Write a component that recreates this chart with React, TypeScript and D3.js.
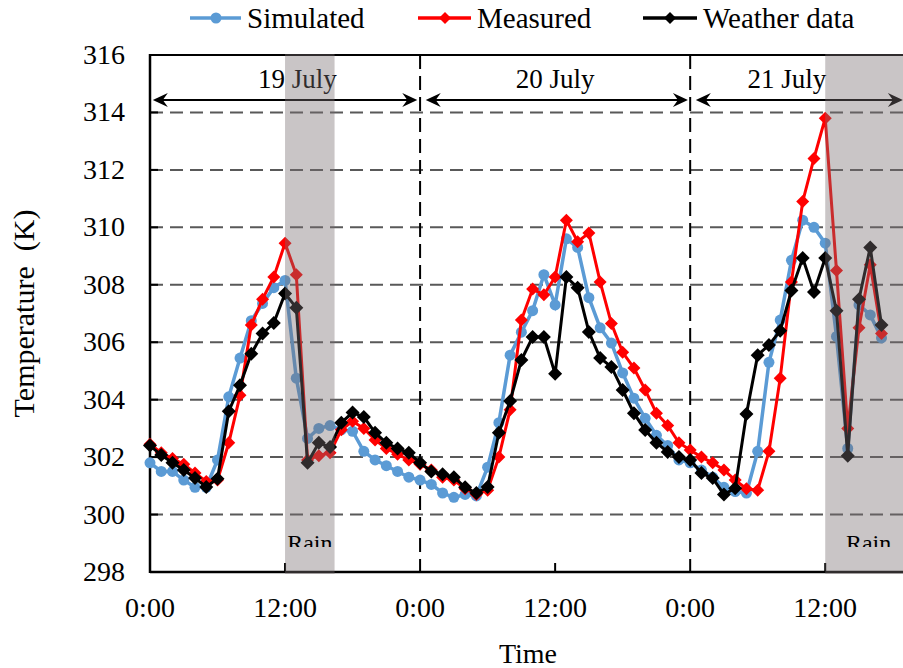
import React from 'react';
import * as d3 from 'd3';

// hourly readings starting 19 July 0:00
const SIMULATED = [
  301.8, 301.5, 301.5, 301.2, 300.95, 300.95, 301.9, 304.1, 305.45, 306.75,
  307.35, 307.9, 308.15, 304.75, 302.65, 303.0, 303.1, 302.95, 302.9, 302.2,
  301.9, 301.7, 301.5, 301.3, 301.2, 301.05, 300.75, 300.6, 300.7, 300.65,
  301.65, 303.2, 305.55, 306.35, 307.1, 308.35, 307.3, 309.6, 309.3, 307.55,
  306.5, 305.97, 304.93, 304.05, 303.35, 302.76, 302.4, 301.9, 301.8, 301.55,
  301.3, 300.95, 300.8, 300.75, 302.2, 305.3, 306.77, 308.85, 310.25, 310.0,
  309.45, 306.2, 302.3, 307.3, 306.95, 306.15,
];
const MEASURED = [
  302.45, 302.15, 301.95, 301.75, 301.45, 301.15, 301.2, 302.5, 304.15, 306.6,
  307.5, 308.27, 309.45, 308.35, 301.9, 302.05, 302.15, 302.95, 303.25, 303.0,
  302.6, 302.3, 302.1, 301.9, 301.75, 301.55, 301.3, 301.2, 300.9, 300.7,
  300.85, 302.0, 303.65, 306.77, 307.85, 307.65, 308.27, 310.25, 309.5, 309.8,
  308.1, 306.65, 305.65, 305.1, 304.34, 303.53, 303.1, 302.5, 302.25, 302.0,
  301.8, 301.55, 301.2, 300.9, 300.85, 302.2, 304.75, 308.1, 310.9, 312.4,
  313.8, 308.5, 303.0, 306.5, 308.7, 306.3,
];
const WEATHER = [
  302.4, 302.07, 301.8, 301.55, 301.27, 300.96, 301.25, 303.6, 304.5, 305.6,
  306.3, 306.67, 307.7, 307.2, 301.8, 302.5, 302.35, 303.2, 303.55, 303.4,
  302.85, 302.5, 302.3, 302.15, 301.8, 301.5, 301.4, 301.3, 300.95, 300.75,
  300.96, 302.85, 303.95, 305.38, 306.18, 306.18, 304.9, 308.27, 307.9, 306.36,
  305.45, 305.14, 304.34, 303.53, 302.94, 302.5, 302.18, 302.0, 301.9, 301.45,
  301.27, 300.7, 300.92, 303.5, 305.55, 305.9, 306.4, 307.8, 308.93, 307.75,
  308.93, 307.1, 302.05, 307.5, 309.3, 306.6,
];

const Y_TICKS = [298, 300, 302, 304, 306, 308, 310, 312, 314, 316];
const X_TICKS = [0, 12, 24, 36, 48, 60];
const X_TICK_LABELS = ['0:00', '12:00', '0:00', '12:00', '0:00', '12:00'];
const DAY_BREAKS = [24, 48];
const DAYS = ['19 July', '20 July', '21 July'];
const DAY_LABEL_AT = [13.1, 36, 56.6];
const DAY_SPANS = [[0.25, 23.75], [24.5, 47.8], [48.5, 66.9]];
const RAIN = [[12, 16.4], [60, 67.7]];

const W = 903;
const H = 668;
const FONT = '"Liberation Serif", "Times New Roman", serif';
const BLUE = '#5b9bd5';
const RED = '#ff0000';

const diamond = (cx: number, cy: number, r: number) =>
  `M${cx},${cy - r}L${cx + r},${cy}L${cx},${cy + r}L${cx - r},${cy}Z`;

// stealth-like arrow head, dir = -1 points left, 1 points right
const arrowHead = (tx: number, ty: number, dir: number) => {
  const L = 15, hw = 7, notch = 10;
  return `M${tx},${ty}L${tx - dir * L},${ty - hw}L${tx - dir * notch},${ty}L${tx - dir * L},${ty + hw}Z`;
};

export default function App() {
  const x = d3.scaleLinear().domain([0, 67]).range([150, 904]);
  const y = d3.scaleLinear().domain([298, 316]).range([572, 55]);
  const [top, bottom] = [y(316), y(298)];
  const left = x(0);
  const arrowY = y(314.43);

  const line = d3.line<number>().x((_, i) => x(i)).y(d => y(d));

  return (
    <svg width={W} height={H} style={{ position: 'absolute', left: 0, top: 0, background: '#fff' }}
      fontFamily={FONT}>
      <defs>
        <clipPath id="rainclip">
          <rect x={0} y={0} width={W} height={547} />
        </clipPath>
      </defs>

      {/* legend */}
      <g>
        <line x1={190} x2={241} y1={18} y2={18} stroke={BLUE} strokeWidth={3.5} />
        <circle cx={216} cy={18} r={5.5} fill={BLUE} />
        <text x={247} y={28} fontSize={29}>Simulated</text>
        <line x1={418} x2={471} y1={18} y2={18} stroke={RED} strokeWidth={3.5} />
        <path d={diamond(445, 18, 6)} fill={RED} />
        <text x={477} y={28} fontSize={29}>Measured</text>
        <line x1={643} x2={697} y1={18} y2={18} stroke="#000" strokeWidth={3.5} />
        <path d={diamond(670, 18, 6)} fill="#000" />
        <text x={703} y={28} fontSize={29}>Weather data</text>
      </g>

      {/* grid */}
      {Y_TICKS.filter(t => t > 298 && t < 316).map(t => (
        <line key={t} x1={left} x2={W} y1={y(t)} y2={y(t)} stroke="#595959"
          strokeWidth={2} strokeDasharray="13,7" />
      ))}
      {Y_TICKS.filter(t => t > 298 && t < 316).map(t => (
        <line key={'tk' + t} x1={left} x2={left + 8} y1={y(t)} y2={y(t)} stroke="#000" strokeWidth={2} />
      ))}
      {DAY_BREAKS.map(h => (
        <line key={h} x1={x(h)} x2={x(h)} y1={top} y2={bottom + 5} stroke="#000"
          strokeWidth={2} strokeDasharray="14,7" />
      ))}
      {X_TICKS.filter(h => h % 24 === 12).map(h => (
        <line key={h} x1={x(h)} x2={x(h)} y1={bottom} y2={bottom - 9} stroke="#000" strokeWidth={2} />
      ))}

      {/* frame */}
      <line x1={left} x2={W} y1={top} y2={top} stroke="#000" strokeWidth={2} />
      <line x1={left} x2={W} y1={bottom} y2={bottom} stroke="#000" strokeWidth={2.5} />
      <line x1={left} x2={left} y1={top - 1} y2={bottom + 1} stroke="#000" strokeWidth={2.5} />

      {/* day annotations */}
      {DAYS.map((d, i) => (
        <g key={d}>
          <text x={x(DAY_LABEL_AT[i])} y={arrowY - 12} fontSize={27} textAnchor="middle">{d}</text>
          <line x1={x(DAY_SPANS[i][0]) + 8} x2={x(DAY_SPANS[i][1]) - 8} y1={arrowY} y2={arrowY}
            stroke="#000" strokeWidth={2} />
          <path d={arrowHead(x(DAY_SPANS[i][0]), arrowY, -1)} fill="#000" />
          <path d={arrowHead(x(DAY_SPANS[i][1]), arrowY, 1)} fill="#000" />
        </g>
      ))}

      {/* series */}
      <path d={line(SIMULATED) || ''} fill="none" stroke={BLUE} strokeWidth={3.5} />
      {SIMULATED.map((v, i) => (
        <circle key={'s' + i} cx={x(i)} cy={y(v)} r={5.5} fill={BLUE} />
      ))}
      <path d={line(MEASURED) || ''} fill="none" stroke={RED} strokeWidth={3} />
      {MEASURED.map((v, i) => (
        <path key={'m' + i} d={diamond(x(i), y(v), 6.5)} fill={RED} />
      ))}
      <path d={line(WEATHER) || ''} fill="none" stroke="#000" strokeWidth={3} />
      {WEATHER.map((v, i) => (
        <path key={'w' + i} d={diamond(x(i), y(v), 7)} fill="#000" />
      ))}

      {/* rain overlay */}
      {RAIN.map(([a, b]) => (
        <g key={a}>
          <rect x={x(a)} y={top - 1} width={x(b) - x(a)} height={bottom - top + 3}
            fill="#786e70" fillOpacity={0.4} />
          <text x={(x(a) + x(b)) / 2} y={551} fontSize={24} textAnchor="middle"
            clipPath="url(#rainclip)">Rain</text>
        </g>
      ))}

      {/* axes labels */}
      {Y_TICKS.map(t => (
        <text key={t} x={125} y={y(t) + 9} fontSize={28} textAnchor="end">{t}</text>
      ))}
      {X_TICKS.map((h, i) => (
        <text key={h} x={x(h)} y={617} fontSize={28} textAnchor="middle">{X_TICK_LABELS[i]}</text>
      ))}
      <text x={528} y={663} fontSize={28} textAnchor="middle">Time</text>
      <text transform={`translate(34,${(top + bottom) / 2}) rotate(-90)`} fontSize={30}
        textAnchor="middle" xmlSpace="preserve">Temperature  (K)</text>
    </svg>
  );
}
